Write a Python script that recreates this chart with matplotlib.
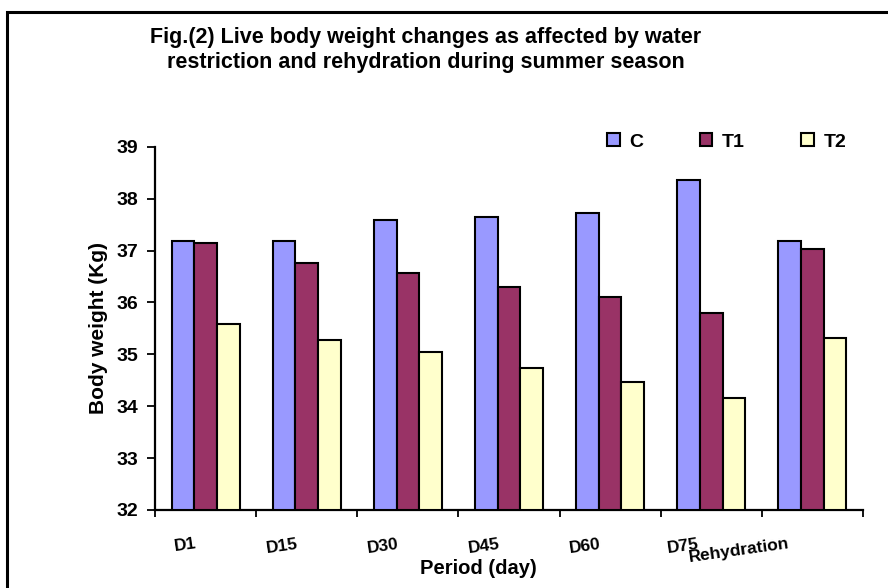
import matplotlib
matplotlib.use("Agg")
import matplotlib.pyplot as plt
import matplotlib.transforms as mtransforms
from matplotlib.patches import Rectangle
import numpy as np

plt.rcParams['font.family'] = ['Liberation Sans', 'DejaVu Sans']

categories = ["D1", "D15", "D30", "D45", "D60", "D75", "Rehydration"]
series_names = ["C", "T1", "T2"]
C_vals = [37.19, 37.19, 37.58, 37.65, 37.73, 38.35, 37.19]
T1_vals = [37.14, 36.76, 36.56, 36.30, 36.10, 35.79, 37.03]
T2_vals = [35.59, 35.28, 35.05, 34.74, 34.47, 34.15, 35.32]
colors = ["#9999FF", "#993366", "#FFFFCC"]
y_ticks = [32, 33, 34, 35, 36, 37, 38, 39]

W, H = 888, 588
fig = plt.figure(figsize=(W / 100, H / 100), dpi=100)
ax = fig.add_axes([155 / W, 1 - 510 / H, (863 - 155) / W, (510 - 146.7) / H])

x = np.arange(len(categories))
bw = 0.224
for i, (vals, name) in enumerate(zip([C_vals, T1_vals, T2_vals], series_names)):
    ax.bar(x + (i - 1) * bw, np.array(vals) - 32, bottom=32, width=bw,
           color=colors[i], edgecolor='black', linewidth=1.5, label=name, zorder=3)

ax.set_xlim(-0.5, len(categories) - 0.5)
ax.set_ylim(32, 39)
ax.set_yticks(y_ticks)
ax.set_yticklabels([str(t) for t in y_ticks], fontsize=14, fontweight='bold')
ax.tick_params(axis='y', direction='out', length=6, width=1.3, pad=6)

ax.set_xticks(x)
ax.set_xticks(np.arange(len(categories) + 1) - 0.5, minor=True)
ax.tick_params(axis='x', which='major', length=0, pad=19)
ax.tick_params(axis='x', which='minor', direction='out', length=5, width=1.3)
ax.set_xticklabels(categories, fontsize=12.5, fontweight='bold', rotation=8,
                   ha='right', va='top', rotation_mode='anchor')
offsets = [(-10, 0)] * 5 + [(-14, 0), (-24, 0)]
for lbl, (dx, dy) in zip(ax.get_xticklabels(), offsets):
    lbl.set_transform(lbl.get_transform() +
                      mtransforms.ScaledTranslation(dx / 100, dy / 100, fig.dpi_scale_trans))

for s in ['top', 'right']:
    ax.spines[s].set_visible(False)
for s in ['left', 'bottom']:
    ax.spines[s].set_linewidth(1.6)

ax.set_ylabel("Body weight (Kg)", fontsize=15, fontweight='bold', labelpad=6)
ax.set_xlabel("Period (day)", fontsize=14.5, fontweight='bold')
ax.xaxis.set_label_coords((478 - 155) / (863 - 155), -(569 - 510) / (510 - 146.7), transform=ax.transAxes)
ax.xaxis.label.set_va('center')

fig.text(426 / W, 1 - 50 / H,
         "Fig.(2) Live body weight changes as affected by water\nrestriction and rehydration during summer season",
         ha='center', va='center', fontsize=15.5, fontweight='bold', linespacing=1.3)

leg = ax.legend(loc='center left', bbox_to_anchor=(607 / W, 1 - 142 / H),
                bbox_transform=fig.transFigure, ncol=3, frameon=False,
                prop={'size': 14, 'weight': 'bold'}, handlelength=0.65, handleheight=0.65,
                handletextpad=0.5, columnspacing=2.9, borderpad=0, borderaxespad=0)

border = Rectangle((7 / W, -0.1), 1.2, 1 - 12 / H + 0.1, transform=fig.transFigure,
                   fill=False, edgecolor='black', linewidth=2.2, clip_on=False)
fig.patches.append(border)

fig.savefig("out.png", dpi=100, facecolor='white')
